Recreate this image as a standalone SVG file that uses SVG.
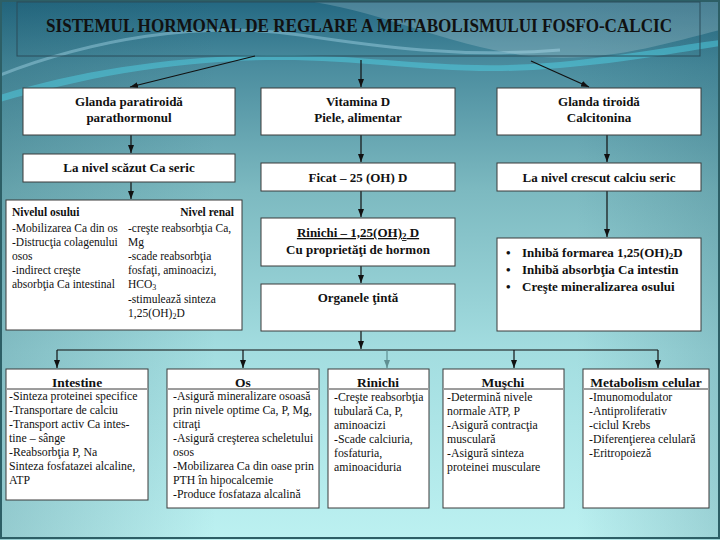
<svg xmlns="http://www.w3.org/2000/svg" width="720" height="540" viewBox="0 0 720 540" font-family="'Liberation Serif', 'Times New Roman', 'DejaVu Serif', serif">
<defs>
<linearGradient id="bg" x1="0" y1="0" x2="0" y2="1">
<stop offset="0" stop-color="#236781"/>
<stop offset="0.12" stop-color="#4a8c9e"/>
<stop offset="0.35" stop-color="#7cb9c0"/>
<stop offset="0.65" stop-color="#a3dde0"/>
<stop offset="1" stop-color="#bcf1f1"/>
</linearGradient>
<linearGradient id="side" x1="0" y1="0" x2="1" y2="0">
<stop offset="0" stop-color="#1e5a6a" stop-opacity="0.25"/>
<stop offset="0.3" stop-color="#1e5a6a" stop-opacity="0"/>
<stop offset="0.8" stop-color="#1e5a6a" stop-opacity="0"/>
<stop offset="1" stop-color="#1e5a6a" stop-opacity="0.2"/>
</linearGradient>
<marker id="ah" markerWidth="8" markerHeight="6" refX="8" refY="3" orient="auto" markerUnits="userSpaceOnUse">
<path d="M0,0 L8,3 L0,6 z" fill="#111"/>
</marker>
<marker id="ahg" markerWidth="8" markerHeight="6" refX="8" refY="3" orient="auto" markerUnits="userSpaceOnUse">
<path d="M0,0 L8,3 L0,6 z" fill="#5f8f92"/>
</marker>
<style>
.box{fill:#fff;stroke:#3a3a3a;stroke-width:1}
text{font-family:'Liberation Serif','Times New Roman','DejaVu Serif',serif;fill:#111}
.b{font-weight:bold;font-size:13px}
.bt{font-weight:bold;font-size:13.5px}
.r{font-size:11.8px}
.rs{font-size:11.5px}
.c{text-anchor:middle}
.conn{stroke:#111;stroke-width:1.2;fill:none;marker-end:url(#ah)}
.line{stroke:#111;stroke-width:1.2;fill:none}
.hl{stroke:#3a3a3a;stroke-width:1}
</style>
</defs>
<rect x="0" y="0" width="720" height="540" fill="url(#bg)"/>
<rect x="0" y="0" width="720" height="540" fill="url(#side)"/>
<path d="M300,0 C380,10 430,40 520,55 C600,65 660,45 720,30 L720,0 Z" fill="#ffffff" opacity="0.18"/>
<path d="M0,95 C80,70 180,55 280,55 C380,55 450,72 560,62 C630,55 680,45 720,40 L720,46 C680,52 630,62 560,68 C450,78 380,60 280,60 C180,60 90,76 0,102 Z" fill="#4fd6ec" opacity="0.45"/>
<path d="M0,75 C90,40 200,20 300,35 C380,47 460,58 560,50" fill="none" stroke="#bfefff" stroke-width="3" opacity="0.35"/>
<rect x="1" y="1" width="718" height="537" fill="none" stroke="#2d5f66" stroke-width="2"/>

<g id="title">
<rect x="17" y="2" width="683" height="54" fill="none" stroke="#2a4d5a" stroke-width="1"/>
<text class="c" x="359" y="32" font-size="18" font-weight="bold" textLength="626" lengthAdjust="spacingAndGlyphs">SISTEMUL HORMONAL DE REGLARE A METABOLISMULUI FOSFO-CALCIC</text>
</g>

<g id="connectors">
<path class="conn" d="M255,56 L130,87"/>
<path class="conn" d="M361,60 L361,87"/>
<path class="conn" d="M531,61 L589,87"/>
<path class="conn" d="M131,135 L131,153"/>
<path class="conn" d="M131,182 L131,199"/>
<path class="conn" d="M361,135 L361,162"/>
<path class="conn" d="M361,191 L361,217"/>
<path class="conn" d="M361,266 L361,283"/>
<path class="conn" d="M361,331 L361,349"/>
<path class="conn" d="M607,135 L607,162"/>
<path class="conn" d="M607,191 L607,237"/>
<path class="line" d="M57,350 L658,350"/>
<path class="conn" d="M57,350 L57,368"/>
<path class="conn" d="M243,350 L243,368"/>
<path d="M387,350 L387,368" stroke="#5f8f92" stroke-width="1.2" fill="none" marker-end="url(#ahg)"/>
<path class="conn" d="M514,350 L514,368"/>
<path class="conn" d="M658,350 L658,368"/>
</g>

<g id="paratiroida">
<rect class="box" x="23" y="88" width="212" height="47"/>
<text class="b c" x="129" y="106">Glanda paratiroidă</text>
<text class="b c" x="129" y="122">parathormonul</text>
</g>
<g id="vitamina-d">
<rect class="box" x="261" y="88" width="194" height="47"/>
<text class="b c" x="358" y="106">Vitamina D</text>
<text class="b c" x="358" y="122">Piele, alimentar</text>
</g>
<g id="tiroida">
<rect class="box" x="497" y="88" width="204" height="47"/>
<text class="b c" x="599" y="106">Glanda tiroidă</text>
<text class="b c" x="599" y="122">Calcitonina</text>
</g>

<g id="nivel-scazut">
<rect class="box" x="23" y="154" width="212" height="28"/>
<text class="b c" x="129" y="172">La nivel scăzut Ca seric</text>
</g>
<g id="ficat">
<rect class="box" x="261" y="163" width="194" height="28"/>
<text class="b c" x="358" y="182">Ficat – 25 (OH) D</text>
</g>
<g id="nivel-crescut">
<rect class="box" x="497" y="163" width="204" height="28"/>
<text class="b c" x="599" y="182">La nivel crescut calciu seric</text>
</g>

<g id="efecte-pth">
<rect class="box" x="6" y="200" width="236" height="130"/>
<text class="rs" x="12" y="216" font-weight="bold">Nivelul osului</text>
<text class="rs" x="234" y="216" font-weight="bold" text-anchor="end">Nivel renal</text>
<text class="rs" x="12" y="232">-Mobilizarea Ca din os</text>
<text class="rs" x="12" y="246">-Distrucţia colagenului</text>
<text class="rs" x="12" y="260">osos</text>
<text class="rs" x="12" y="274">-indirect creşte</text>
<text class="rs" x="12" y="288">absorbţia Ca intestinal</text>
<text class="rs" x="128" y="232">-creşte reabsorbţia Ca,</text>
<text class="rs" x="128" y="246">Mg</text>
<text class="rs" x="128" y="260">-scade reabsorbţia</text>
<text class="rs" x="128" y="274">fosfaţi, aminoacizi,</text>
<text class="rs" x="128" y="288">HCO<tspan font-size="8" dy="2">3</tspan></text>
<text class="rs" x="128" y="303">-stimulează sinteza</text>
<text class="rs" x="128" y="317">1,25(OH)<tspan font-size="8" dy="2">2</tspan><tspan dy="-2">D</tspan></text>
</g>

<g id="rinichi-vitd">
<rect class="box" x="261" y="218" width="194" height="48"/>
<text class="b c" x="358" y="237" text-decoration="underline">Rinichi – 1,25(OH)<tspan font-size="9" dy="2">2</tspan><tspan dy="-2"> D</tspan></text>
<text class="b c" x="358" y="254">Cu proprietăţi de hormon</text>
</g>
<g id="organe-tinta">
<rect class="box" x="261" y="284" width="194" height="47"/>
<text class="b c" x="358" y="302">Organele ţintă</text>
</g>

<g id="efecte-calcitonina">
<rect class="box" x="497" y="238" width="204" height="93"/>
<text class="b" x="506" y="257">•</text>
<text class="b" x="522" y="257">Inhibă formarea 1,25(OH)<tspan font-size="9" dy="2">2</tspan><tspan dy="-2">D</tspan></text>
<text class="b" x="506" y="274">•</text>
<text class="b" x="522" y="274">Inhibă absorbţia Ca intestin</text>
<text class="b" x="506" y="291">•</text>
<text class="b" x="522" y="291">Creşte mineralizarea osului</text>
</g>

<g id="intestine">
<rect class="box" x="6" y="369" width="142" height="131"/>
<text class="bt c" x="77" y="387">Intestine</text>
<line class="hl" x1="7" y1="389" x2="147" y2="389"/>
<text class="r" x="9" y="400">-Sinteza proteinei specifice</text>
<text class="r" x="9" y="414">-Transportare de calciu</text>
<text class="r" x="9" y="428">-Transport activ Ca intes-</text>
<text class="r" x="9" y="442">tine – sânge</text>
<text class="r" x="9" y="456">-Reabsorbţia P, Na</text>
<text class="r" x="9" y="470">Sinteza fosfatazei alcaline,</text>
<text class="r" x="9" y="484">ATP</text>
</g>
<g id="os">
<rect class="box" x="167" y="369" width="152" height="139"/>
<text class="bt c" x="243" y="387">Os</text>
<line class="hl" x1="168" y1="389" x2="318" y2="389"/>
<text class="r" x="173" y="400">-Asigură mineralizare osoasă</text>
<text class="r" x="173" y="414">prin nivele optime Ca, P, Mg,</text>
<text class="r" x="173" y="428">citraţi</text>
<text class="r" x="173" y="442">-Asigură creşterea scheletului</text>
<text class="r" x="173" y="456">osos</text>
<text class="r" x="173" y="470">-Mobilizarea Ca din oase prin</text>
<text class="r" x="173" y="484">PTH în hipocalcemie</text>
<text class="r" x="173" y="498">-Produce fosfataza alcalină</text>
</g>
<g id="rinichi">
<rect class="box" x="328" y="369" width="101" height="139"/>
<text class="bt c" x="378" y="387">Rinichi</text>
<line class="hl" x1="329" y1="389" x2="428" y2="389"/>
<text class="r" x="334" y="401">-Creşte reabsorbţia</text>
<text class="r" x="334" y="415">tubulară Ca, P,</text>
<text class="r" x="334" y="429">aminoacizi</text>
<text class="r" x="334" y="443">-Scade calciuria,</text>
<text class="r" x="334" y="457">fosfaturia,</text>
<text class="r" x="334" y="471">aminoaciduria</text>
</g>
<g id="muschi">
<rect class="box" x="443" y="369" width="121" height="139"/>
<text class="bt c" x="503" y="387">Muşchi</text>
<line class="hl" x1="444" y1="389" x2="563" y2="389"/>
<text class="r" x="447" y="401">-Determină nivele</text>
<text class="r" x="447" y="415">normale ATP, P</text>
<text class="r" x="447" y="429">-Asigură contracţia</text>
<text class="r" x="447" y="443">musculară</text>
<text class="r" x="447" y="457">-Asigură sinteza</text>
<text class="r" x="447" y="471">proteinei musculare</text>
</g>
<g id="metabolism">
<rect class="box" x="583" y="369" width="126" height="139"/>
<text class="bt c" x="646" y="387">Metabolism celular</text>
<line class="hl" x1="584" y1="389" x2="708" y2="389"/>
<text class="r" x="589" y="401">-Imunomodulator</text>
<text class="r" x="589" y="415">-Antiproliferativ</text>
<text class="r" x="589" y="429">-ciclul Krebs</text>
<text class="r" x="589" y="443">-Diferenţierea celulară</text>
<text class="r" x="589" y="457">-Eritropoieză</text>
</g>
</svg>
